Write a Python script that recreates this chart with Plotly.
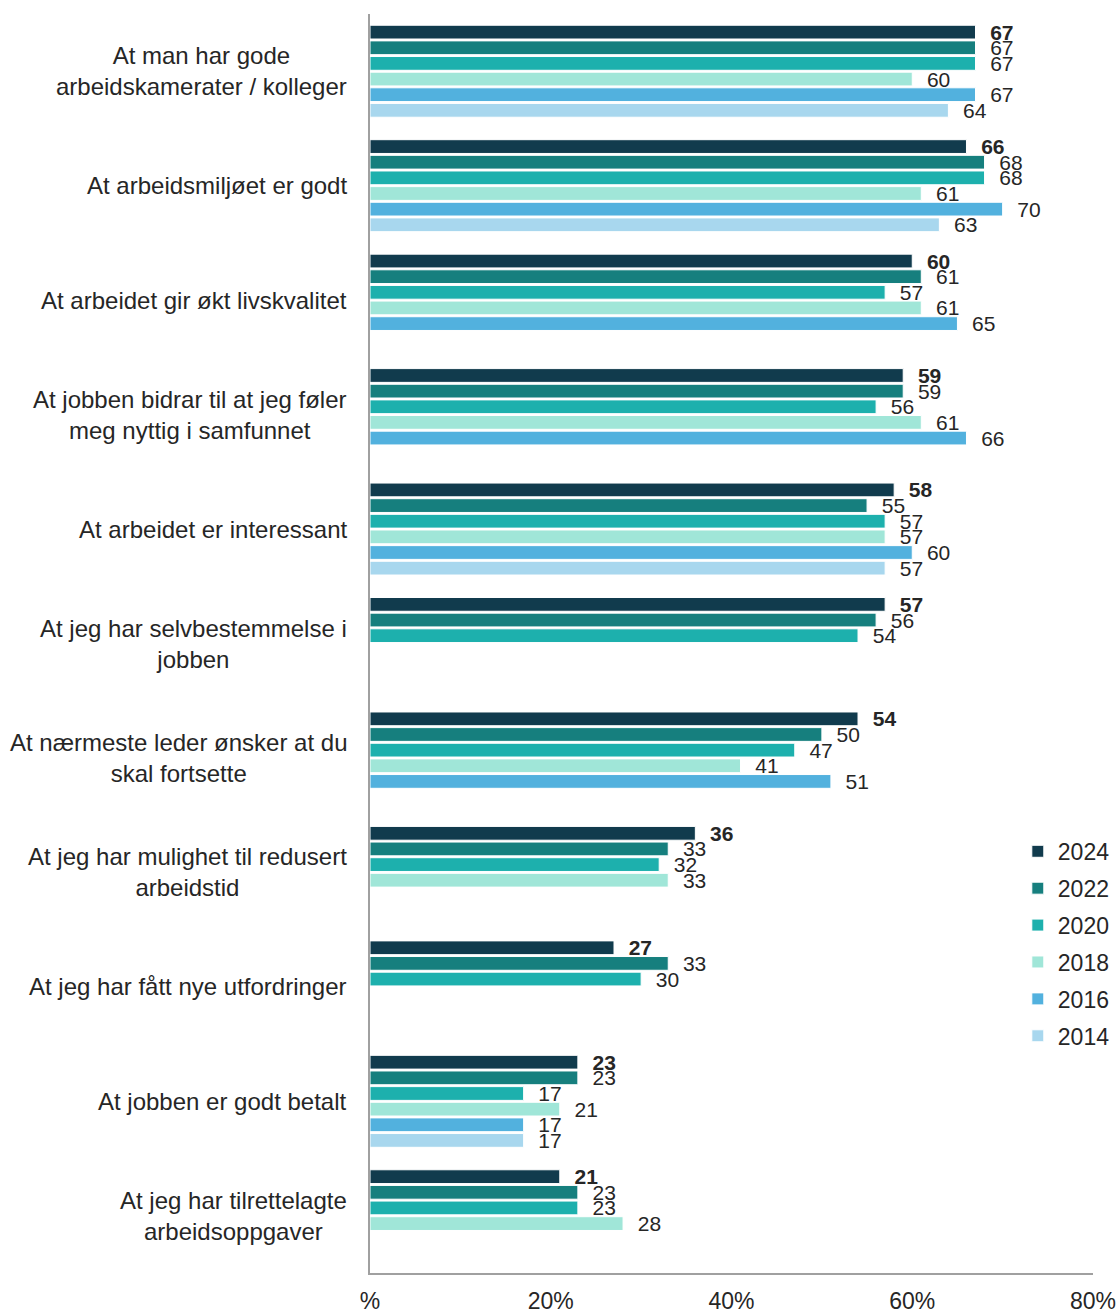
import plotly.graph_objects as go

# Survey statements (top to bottom)
categories = [
    "At man har gode<br>arbeidskamerater / kolleger",
    "At arbeidsmiljøet er godt",
    "At arbeidet gir økt livskvalitet",
    "At jobben bidrar til at jeg føler<br>meg nyttig i samfunnet",
    "At arbeidet er interessant",
    "At jeg har selvbestemmelse i<br>jobben",
    "At nærmeste leder ønsker at du<br>skal fortsette",
    "At jeg har mulighet til redusert<br>arbeidstid",
    "At jeg har fått nye utfordringer",
    "At jobben er godt betalt",
    "At jeg har tilrettelagte<br>arbeidsoppgaver",
]

years = ["2024", "2022", "2020", "2018", "2016", "2014"]

# Share (%) per survey year; None where the statement was not asked
v2024 = [67, 66, 60, 59, 58, 57, 54, 36, 27, 23, 21]
v2022 = [67, 68, 61, 59, 55, 56, 50, 33, 33, 23, 23]
v2020 = [67, 68, 57, 56, 57, 54, 47, 32, 30, 17, 23]
v2018 = [60, 61, 61, 61, 57, None, 41, 33, None, 21, 28]
v2016 = [67, 70, 65, 66, 60, None, 51, None, None, 17, None]
v2014 = [64, 63, None, None, 57, None, None, None, None, 17, None]

series = [v2024, v2022, v2020, v2018, v2016, v2014]
colors = ["#113B4D", "#167F7E", "#1DB0AD", "#A0E6D8", "#52B1DE", "#A8D7EE"]

tick_vals = [0, 20, 40, 60, 80]
tick_text = ["%", "20%", "40%", "60%", "80%"]

FONT = "Liberation Sans, Arial, sans-serif"
TEXT_COLOR = "#262626"
PAD = "\u00a0\u00a0"

fig = go.Figure()
for i, (year, vals, col) in enumerate(zip(years, series, colors)):
    fig.add_trace(go.Bar(
        name=year,
        legendgroup=year,
        y=categories,
        x=vals,
        orientation="h",
        marker=dict(color=col, line=dict(color="white", width=1)),
        text=[None if v is None else PAD + str(v) for v in vals],
        textposition="outside",
        constraintext="none",
        cliponaxis=False,
        textfont=dict(family=FONT, size=21, color=TEXT_COLOR,
                      weight="bold" if i == 0 else "normal"),
        hoverinfo="skip",
    ))

for cat in categories:
    fig.add_annotation(
        x=0, xref="paper", y=cat, yref="y",
        text=cat, showarrow=False,
        xanchor="right", align="center", xshift=-21,
        font=dict(family=FONT, size=24, color=TEXT_COLOR),
    )

fig.update_layout(
    width=1119, height=1313,
    margin=dict(l=370, r=26, t=14, b=40, autoexpand=False),
    paper_bgcolor="white", plot_bgcolor="white",
    barmode="group", bargap=0.18, bargroupgap=0.12,
    font=dict(family=FONT, color=TEXT_COLOR),
    legend=dict(
        x=0.896, xanchor="left", y=0.352, yanchor="top",
        traceorder="grouped", tracegroupgap=4,
        font=dict(family=FONT, size=23, color=TEXT_COLOR),
        bgcolor="rgba(0,0,0,0)", itemwidth=30,
    ),
    showlegend=True,
)
fig.update_xaxes(
    range=[0, 80], tickvals=tick_vals, ticktext=tick_text,
    showgrid=False, zeroline=False, automargin=False,
    showline=True, linecolor="#A0A0A0", linewidth=2,
    ticks="", ticklabelstandoff=6,
    tickfont=dict(family=FONT, size=23, color=TEXT_COLOR),
)
fig.update_yaxes(
    autorange="reversed", showticklabels=False, automargin=False,
    showgrid=False, zeroline=False,
    showline=True, linecolor="#A0A0A0", linewidth=2, ticks="",
)

fig.write_html("out.html")
